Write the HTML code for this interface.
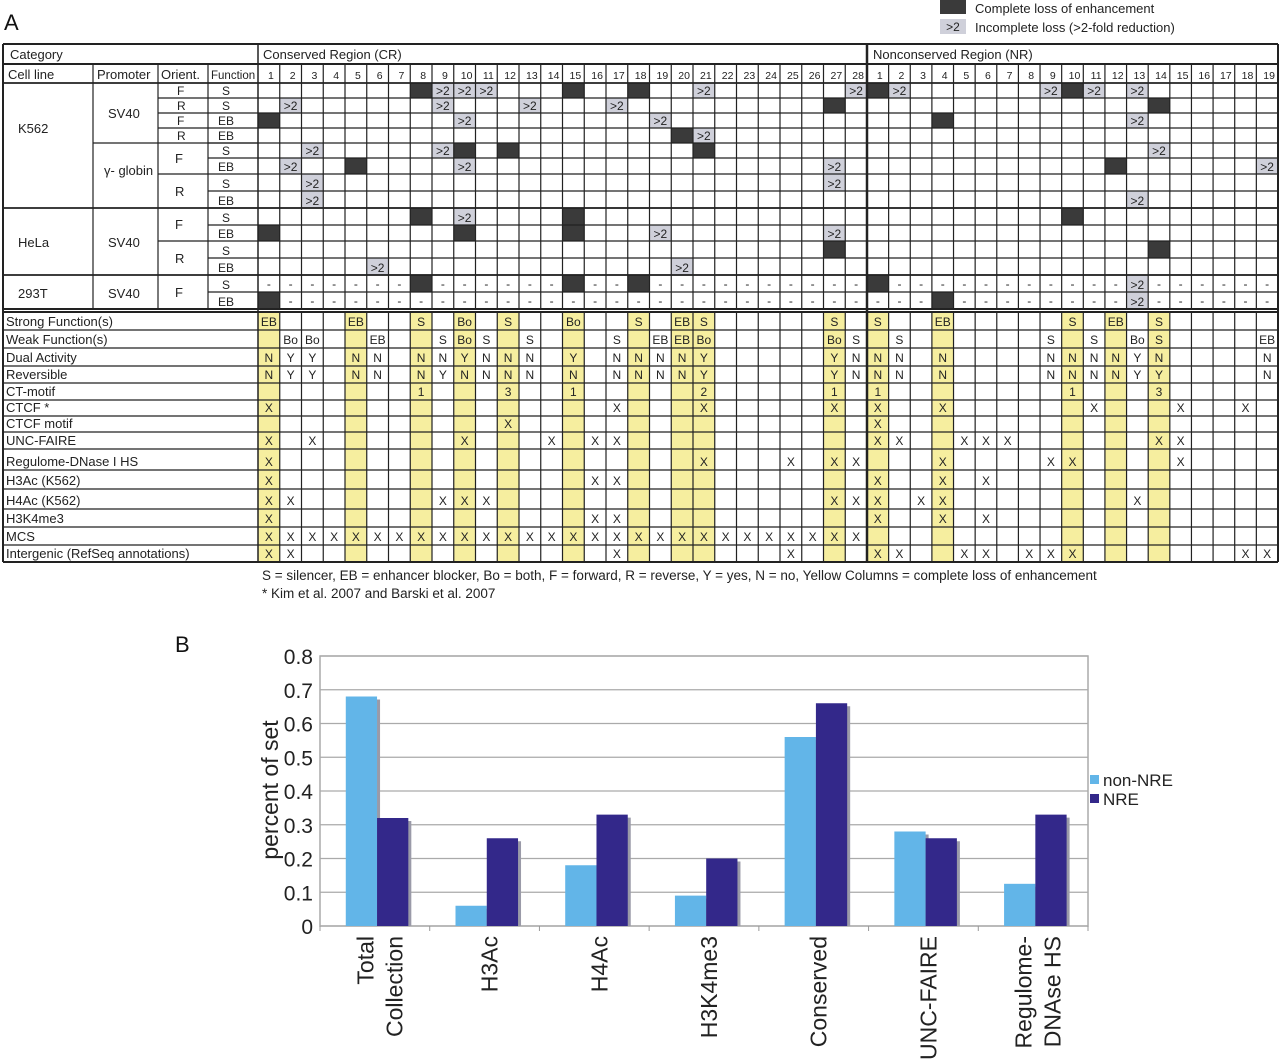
<!DOCTYPE html>
<html><head><meta charset="utf-8"><style>
html,body{margin:0;padding:0;background:#fff;}
svg{display:block;font-family:"Liberation Sans",Arial,sans-serif;}
</style></head><body>
<svg id="fig" width="1280" height="1060" viewBox="0 0 1280 1060" xmlns="http://www.w3.org/2000/svg">
<text x="4" y="30" font-size="22" fill="#111">A</text>
<g>
<rect x="940" y="0" width="26" height="14" fill="#3a3a3a"/>
<text x="975" y="13" font-size="13" fill="#222">Complete loss of enhancement</text>
<rect x="940" y="19" width="26" height="15" fill="#cfd0da"/>
<text x="953" y="31" font-size="12" text-anchor="middle" fill="#222">&gt;2</text>
<text x="975" y="32" font-size="13" fill="#222">Incomplete loss (&gt;2-fold reduction)</text>
</g>
<g id="tbl"></g>
<text x="262" y="580" font-size="13.5" fill="#222">S = silencer,  EB = enhancer blocker, Bo = both, F = forward, R = reverse, Y = yes, N = no, Yellow Columns = complete loss of enhancement</text>
<text x="262" y="598" font-size="13.5" fill="#222">* Kim et al. 2007 and Barski et al. 2007</text>
<text x="175" y="652" font-size="22" fill="#111">B</text>
<g id="chart"></g>
</svg>
<script>
// ---------- chart data ----------
const categories = [["Total","Collection"],["H3Ac"],["H4Ac"],["H3K4me3"],["Conserved"],["UNC-FAIRE"],["Regulome-","DNAse HS"]];
const nonNRE = [0.68,0.06,0.18,0.09,0.56,0.28,0.125];
const NRE = [0.32,0.26,0.33,0.20,0.66,0.26,0.33];
const yTicks = ["0","0.1","0.2","0.3","0.4","0.5","0.6","0.7","0.8"];
const seriesNames = ["non-NRE","NRE"];

// ---------- table data ----------
const topRows = [
 "8D 9G 10G 11G 15D 18D 21G 28G|1D 2G 9G 10D 11G 13G",
 "2G 9G 13G 17G 27D|14D",
 "1D 10G 19G|4D 13G",
 "20D 21G|",
 "3G 9G 10D 12D 21D|14G",
 "2G 5D 10G 27G|12D 19G",
 "3G 27G|",
 "3G|13G",
 "8D 10G 15D|10D",
 "1D 10D 15D 19G 27G|",
 "27D|14D",
 "6G 20G|",
 "8D 15D 18D|1D 13G",
 "1D|4D 13G"
];
const yellowCR = [1,5,8,10,12,15,18,20,21,27];
const yellowNR = [1,4,10,12,14];
const bottomLabels = ["Strong Function(s)","Weak Function(s)","Dual Activity","Reversible","CT-motif","CTCF *","CTCF motif","UNC-FAIRE","Regulome-DNase I HS","H3Ac (K562)","H4Ac (K562)","H3K4me3","MCS","Intergenic (RefSeq annotations)"];
const bottomRows = [
 "1:EB 5:EB 8:S 10:Bo 12:S 15:Bo 18:S 20:EB 21:S 27:S|1:S 4:EB 10:S 12:EB 14:S",
 "2:Bo 3:Bo 6:EB 9:S 10:Bo 11:S 13:S 17:S 19:EB 20:EB 21:Bo 27:Bo 28:S|2:S 9:S 11:S 13:Bo 14:S 19:EB",
 "1:N 2:Y 3:Y 5:N 6:N 8:N 9:N 10:Y 11:N 12:N 13:N 15:Y 17:N 18:N 19:N 20:N 21:Y 27:Y 28:N|1:N 2:N 4:N 9:N 10:N 11:N 12:N 13:Y 14:N 19:N",
 "1:N 2:Y 3:Y 5:N 6:N 8:N 9:Y 10:N 11:N 12:N 13:N 15:N 17:N 18:N 19:N 20:N 21:Y 27:Y 28:N|1:N 2:N 4:N 9:N 10:N 11:N 12:N 13:Y 14:Y 19:N",
 "8:1 12:3 15:1 21:2 27:1|1:1 10:1 14:3",
 "1:X 17:X 21:X 27:X|1:X 4:X 11:X 15:X 18:X",
 "12:X|1:X",
 "1:X 3:X 10:X 14:X 16:X 17:X|1:X 2:X 5:X 6:X 7:X 14:X 15:X",
 "1:X 21:X 25:X 27:X 28:X|4:X 9:X 10:X 15:X",
 "1:X 16:X 17:X|1:X 4:X 6:X",
 "1:X 2:X 9:X 10:X 11:X 27:X 28:X|1:X 3:X 4:X 13:X",
 "1:X 16:X 17:X|1:X 4:X 6:X",
 "1:X 2:X 3:X 4:X 5:X 6:X 7:X 8:X 9:X 10:X 11:X 12:X 13:X 14:X 15:X 16:X 17:X 18:X 19:X 20:X 21:X 22:X 23:X 24:X 25:X 26:X 27:X 28:X|",
 "1:X 2:X 17:X 25:X|1:X 2:X 5:X 6:X 8:X 9:X 10:X 18:X 19:X"
];

const NS="http://www.w3.org/2000/svg";
function mk(tag,attrs,parent){const e=document.createElementNS(NS,tag);for(const k in attrs)e.setAttribute(k,attrs[k]);parent.appendChild(e);return e;}
const tbl=document.getElementById('tbl');
function colX(c){return c<=28?258+(c-1)*21.75:867+(c-29)*21.63;}
function colW(c){return c<=28?21.75:21.63;}
const topY=[83,98,113,128,143,158,174,191,208,225,241,258,275,292,309];
const botY=[312,330,348,366,383,400,416,432,449,470,489,509,527,545,562];
function txt(x,y,s,size,anchor,parent){const t=mk('text',{x:x,y:y,'font-size':size,'text-anchor':anchor||'middle',fill:'#222'},parent);t.textContent=s;return t;}

yellowCR.concat(yellowNR.map(n=>n+28)).forEach(c=>{
 const r=mk('rect',{x:colX(c),y:312,width:colW(c),height:250,fill:'#f6ee9f'},tbl);
 
 
});
topRows.forEach((row,ri)=>{
 const parts=row.split('|');const map={};
 parts.forEach((p,pi)=>p.trim().split(/\s+/).filter(Boolean).forEach(tok=>{const m=tok.match(/(\d+)([DG])/);map[+m[1]+pi*28]=m[2];}));
 const y0=topY[ri],h=topY[ri+1]-y0;
 for(let c=1;c<=47;c++){
  const v=map[c];const x=colX(c),w=colW(c);
  if(v==='D'){const r=mk('rect',{x:x,y:y0,width:w,height:h,fill:'#3a3a3a'},tbl);
   
   }
  else if(v==='G'){const r=mk('rect',{x:x,y:y0,width:w,height:h,fill:'#cfd0da'},tbl);
   
   
   txt(x+w/2,y0+h-3,'>2',12,'middle',tbl);}
  else if(ri>=12){txt(x+w/2,y0+h-4,'-',12,'middle',tbl);}
 }
});
bottomRows.forEach((row,ri)=>{
 const parts=row.split('|');const y0=botY[ri],h=botY[ri+1]-y0;
 parts.forEach((p,pi)=>p.trim().split(/\s+/).filter(Boolean).forEach(tok=>{
  const [c,s]=tok.split(':');const cc=+c+pi*28;
  const t=txt(colX(cc)+colW(cc)/2,y0+h-4,s,12,'middle',tbl);
  
  
 }));
 const l=txt(6,y0+h-4,bottomLabels[ri],13,'start',tbl);
 
 
});
const L=(x1,y1,x2,y2,w)=>mk('line',{x1:x1,y1:y1,x2:x2,y2:y2,stroke:'#222','stroke-width':w||1.2},tbl);
for(let c=1;c<=47;c++){const x=colX(c);if(c!==1&&c!==29){L(x,64,x,309);L(x,312,x,562);}}
L(1278,44,1278,562,2);L(867,44,867,562,2.5);L(258,44,258,562,1.5);L(3,44,3,562,2);
L(3,44,1278,44,2);L(3,64,1278,64,2);L(3,83,1278,83,1.8);L(3,309,1278,309,2);L(3,312,1278,312,2);L(3,562,1278,562,2);
L(93,64,93,309);L(158,64,158,309);L(208,64,208,309);
topY.forEach((y,i)=>{if(i>0&&i<14)L(208,y,1278,y);});
L(158,143,258,143);L(3,208,1278,208,1.8);L(3,275,1278,275,1.8);L(93,143,158,143);
L(158,98,208,98);L(158,113,208,113);L(158,128,208,128);L(158,174,208,174);L(158,241,208,241);
botY.forEach((y,i)=>{if(i>0&&i<14)L(3,y,1278,y);});
txt(10,59,'Category',13,'start',tbl);txt(263,59,'Conserved Region (CR)',13,'start',tbl);txt(873,59,'Nonconserved Region (NR)',13,'start',tbl);
txt(8,79,'Cell line',13,'start',tbl);txt(97,79,'Promoter',13,'start',tbl);txt(161,79,'Orient.',13,'start',tbl);txt(211,79,'Function',11.5,'start',tbl);
for(let c=1;c<=47;c++){const n=c<=28?c:c-28;const t=txt(colX(c)+colW(c)/2+2,79,String(n),10.5,'middle',tbl);
 
 }
txt(18,133,'K562',13,'start',tbl);txt(108,118,'SV40',13,'start',tbl);txt(104,175,'γ- globin',13,'start',tbl);
txt(18,247,'HeLa',13,'start',tbl);txt(108,247,'SV40',13,'start',tbl);
txt(18,298,'293T',13,'start',tbl);txt(108,298,'SV40',13,'start',tbl);
const orient=['F','R','F','R'];orient.forEach((o,i)=>txt(177,topY[i]+12,o,12,'start',tbl));
txt(175,163,'F',13,'start',tbl);txt(175,196,'R',13,'start',tbl);txt(175,229,'F',13,'start',tbl);txt(175,263,'R',13,'start',tbl);txt(175,297,'F',13,'start',tbl);
const funcs=['S','S','EB','EB','S','EB','S','EB','S','EB','S','EB','S','EB'];
funcs.forEach((f,i)=>{const t=txt(226,topY[i+1]-3,f,12,'middle',tbl);
 
 });

// ---------- chart ----------
const ch=document.getElementById('chart');
const PX0=320,PX1=1088,PY0=926,PY1=656,YMAX=0.8;
const slot=(PX1-PX0)/categories.length;
const yS=v=>PY0-(v/YMAX)*(PY0-PY1);
const xS=i=>PX0+i*slot;
mk('rect',{x:PX0,y:PY1,width:PX1-PX0,height:PY0-PY1,fill:'none',stroke:'#aaa','stroke-width':1.5},ch);
yTicks.forEach((t,i)=>{const v=+t;const y=yS(v);
 const g=mk('line',{x1:PX0,y1:y,x2:PX1,y2:y,stroke:'#aaa','stroke-width':1.2},ch);
 
 
 const tl=mk('text',{x:313,y:y+8,'font-size':21,'text-anchor':'end',fill:'#222'},ch);tl.textContent=t;
 
 
});
for(let i=0;i<=categories.length;i++){mk('line',{x1:xS(i),y1:PY0,x2:xS(i),y2:PY0+5,stroke:'#999','stroke-width':1},ch);}
const bw=slot*0.285,off=slot*0.235;
categories.forEach((cat,i)=>{
 [nonNRE[i],NRE[i]].forEach((v,s)=>{
  const x=xS(i)+off+s*bw,y=yS(v);
  mk('rect',{x:x+3,y:y+3,width:bw,height:PY0-y-3,fill:'#9a9aa8'},ch);
  const b=mk('rect',{x:x,y:y,width:bw,height:PY0-y,fill:s?'#33288a':'#62b5e8'},ch);
  
  
 });
 const cx=xS(i)+slot/2;
 cat.forEach((line,li)=>{
  const lx=cx+5+(li-(cat.length-1)/2)*29;
  const t=mk('text',{x:0,y:0,'font-size':23,'text-anchor':'end',fill:'#222',transform:'translate('+(lx+8)+',936) rotate(-90)'},ch);
  t.textContent=line;
  
  
 });
});
const yt=mk('text',{x:0,y:0,'font-size':23,'text-anchor':'middle',fill:'#222',transform:'translate(278,790) rotate(-90)'},ch);
yt.textContent='percent of set';


seriesNames.forEach((n,s)=>{
 const y=781+s*19;
 const sw=mk('rect',{x:1090,y:y-6,width:9,height:9,fill:s?'#33288a':'#62b5e8'},ch);
 
 
 const t=mk('text',{x:1103,y:y+5,'font-size':17,fill:'#222'},ch);t.textContent=n;
 
 
});
</script>
</body></html>
